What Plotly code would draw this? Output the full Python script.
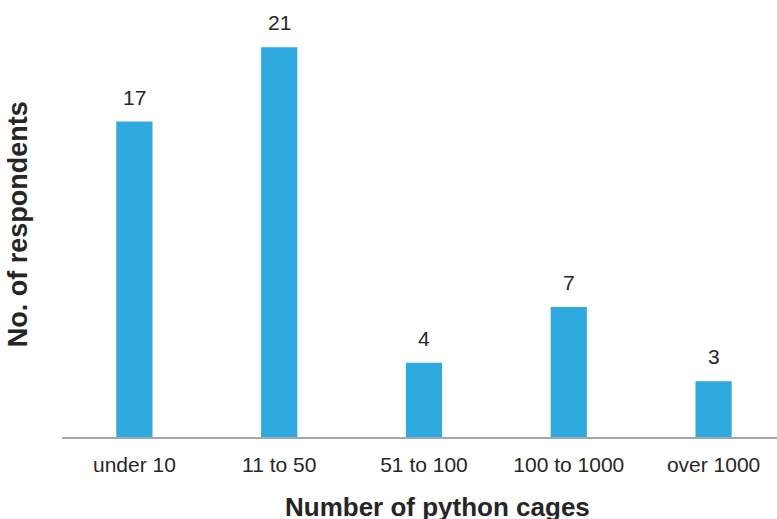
import plotly.graph_objects as go

categories = ["under 10", "11 to 50", "51 to 100", "100 to 1000", "over 1000"]
respondents = [17, 21, 4, 7, 3]

BAR_COLOR = "#2EAAE1"
TEXT_COLOR = "#262626"
FONT = "Liberation Sans, Arial, sans-serif"

fig = go.Figure()
fig.add_trace(go.Bar(
    x=categories, y=respondents, width=0.25,
    marker=dict(color=BAR_COLOR, line=dict(width=0)),
    hoverinfo="skip",
))

for c, v in zip(categories, respondents):
    fig.add_annotation(x=c, y=v, text=str(v), showarrow=False,
                       yanchor="bottom", yshift=11,
                       font=dict(family=FONT, size=21, color=TEXT_COLOR))

fig.add_annotation(xref="paper", yref="paper", x=0.525, y=-0.160,
                   text="<b>Number of python cages</b>", showarrow=False,
                   xanchor="center", yanchor="middle",
                   font=dict(family=FONT, size=26, color=TEXT_COLOR))
fig.add_annotation(xref="paper", yref="paper", x=-0.062, y=0.486,
                   text="<b>No. of respondents</b>", showarrow=False,
                   textangle=-90, xanchor="center", yanchor="middle",
                   font=dict(family=FONT, size=27, color=TEXT_COLOR))

fig.update_layout(
    width=777, height=519,
    margin=dict(l=62, r=0, t=0, b=82),
    paper_bgcolor="white", plot_bgcolor="white",
    showlegend=False,
    font=dict(family=FONT, size=21, color=TEXT_COLOR),
    xaxis=dict(range=[-0.5, 4.438], showline=True, linecolor="#A6A6A6",
               linewidth=2, ticks="", showgrid=False, zeroline=False,
               ticklabelstandoff=8,
               tickfont=dict(family=FONT, size=21, color=TEXT_COLOR),
               fixedrange=True),
    yaxis=dict(range=[0, 23.55], showticklabels=False, showgrid=False,
               zeroline=False, showline=False, ticks="", fixedrange=True),
)

fig.write_html("out.html")
